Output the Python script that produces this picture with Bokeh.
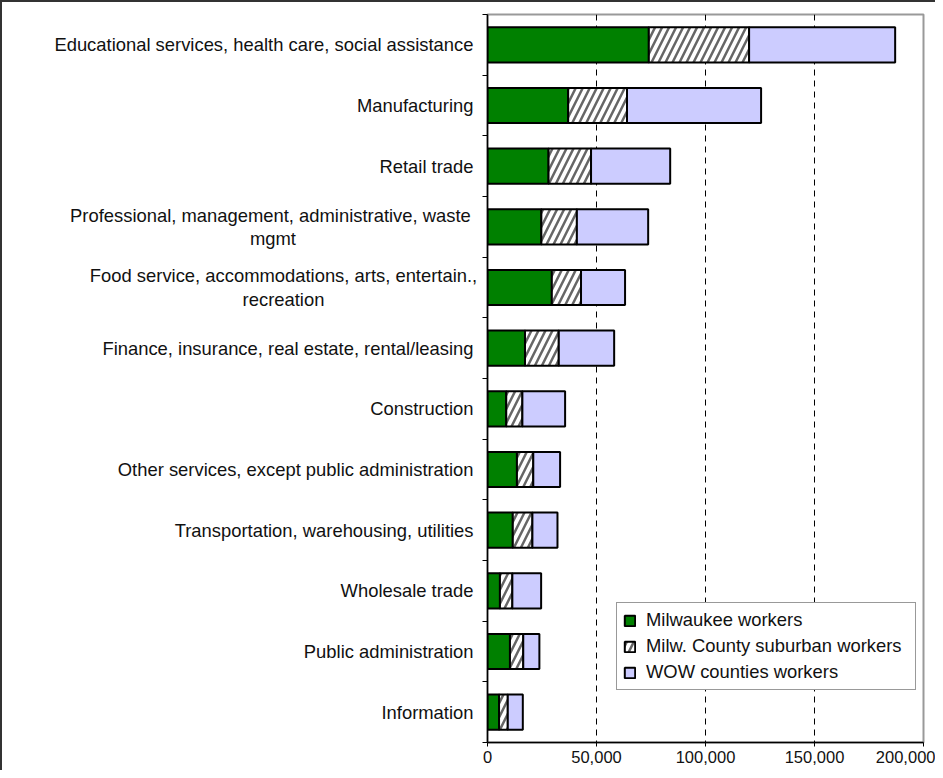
from bokeh.plotting import figure
from bokeh.layouts import row
from bokeh.models import ColumnDataSource, Range1d, FixedTicker, NumeralTickFormatter, Legend, LegendItem
from bokeh.core.properties import value
from bokeh.embed import file_html
from bokeh.resources import INLINE

categories = [
    "Educational services, health care, social assistance",
    "Manufacturing",
    "Retail trade",
    "Professional, management, administrative,  waste\nmgmt",
    "Food service, accommodations, arts, entertain.,\nrecreation",
    "Finance, insurance, real estate, rental/leasing",
    "Construction",
    "Other services, except public administration",
    "Transportation, warehousing, utilities",
    "Wholesale trade",
    "Public administration",
    "Information",
]
milwaukee = [74000, 37000, 28000, 24700, 29500, 17200, 8600, 13500, 11600, 5700, 10300, 5300]
suburban = [46000, 27000, 19500, 16300, 13400, 15500, 7400, 7500, 9000, 5700, 6100, 4000]
wow = [67000, 61500, 36300, 32700, 20200, 25400, 19600, 12300, 11500, 13200, 7400, 6900]
series_names = ["Milwaukee workers", "Milw. County suburban workers", "WOW counties workers"]
x_ticks = [0, 50000, 100000, 150000, 200000]

n = len(categories)
ypos = [i + 0.5 for i in range(n)]
src = ColumnDataSource(dict(y=ypos, mil=milwaukee, sub=suburban, wow=wow))

FONT = "Liberation Sans"
LABEL_SIZE = "18.4px"
TOP, BOTTOM, FRAME_H = 12, 28, 728
LAB_W = 479

y_range = Range1d(n, 0)

# ---- category label panel (left) ----
lab = figure(width=LAB_W, height=TOP + FRAME_H + BOTTOM, title=None, output_backend="svg",
             toolbar_location=None, x_range=Range1d(0, LAB_W), y_range=y_range,
             min_border_left=0, min_border_right=0, min_border_top=TOP, min_border_bottom=BOTTOM)
lab.axis.visible = False
lab.grid.visible = False
lab.outline_line_color = None

single = [i for i, c in enumerate(categories) if "\n" not in c]
multi = [i for i, c in enumerate(categories) if "\n" in c]
RIGHT_EDGE = 471
MULTI_CENTRE = {3: 270.5, 4: 281}
lab.text(x=[RIGHT_EDGE] * len(single), y=[ypos[i] for i in single], text=[categories[i] for i in single],
         text_align="right", text_baseline="middle", text_font=value(FONT),
         text_font_size=value(LABEL_SIZE), text_color="#111111")
lab.text(x=[MULTI_CENTRE[i] for i in multi], y=[ypos[i] for i in multi], text=[categories[i] for i in multi],
         text_align="center", text_baseline="middle", text_font=value(FONT),
         text_font_size=value(LABEL_SIZE), text_color="#111111", text_line_height=1.1)

# ---- bar chart ----
p = figure(frame_width=436, frame_height=FRAME_H, title=None, output_backend="svg", toolbar_location=None,
           x_range=Range1d(0, 200000), y_range=y_range,
           min_border_left=6, min_border_right=12, min_border_top=TOP, min_border_bottom=BOTTOM)

renderers = p.hbar_stack(["mil", "sub", "wow"], y="y", height=0.58, source=src,
                         fill_color=["#008000", "#ffffff", "#ccccff"],
                         line_color="black", line_width=2,
                         hatch_pattern=[" ", "/", " "], hatch_color="#666666",
                         hatch_weight=2.5, hatch_scale=14)

p.grid.visible = False
p.xgrid.visible = True
p.xgrid.ticker = FixedTicker(ticks=[50000, 100000, 150000])
p.xgrid.grid_line_color = "black"
p.xgrid.grid_line_dash = "6 5"
p.xgrid.grid_line_width = 1

p.outline_line_color = "#999999"
p.outline_line_width = 2
p.background_fill_color = "white"

xa = p.xaxis[0]
xa.ticker = FixedTicker(ticks=x_ticks)
xa.formatter = NumeralTickFormatter(format="0,0")
xa.major_label_text_font = FONT
xa.major_label_text_font_size = "16.5px"
xa.major_label_text_color = "#111111"
xa.axis_line_color = "black"
xa.axis_line_width = 1.5
xa.major_tick_out = 4
xa.major_tick_in = 0
xa.minor_tick_line_color = None
xa.major_label_standoff = 4

# y axis: only the boundary tick marks (labels live in the left panel)
ya = p.yaxis[0]
ya.ticker = FixedTicker(ticks=[], minor_ticks=list(range(n + 1)))
ya.major_label_standoff = 0
ya.major_tick_line_color = None
ya.major_tick_out = 0
ya.major_tick_in = 0
ya.minor_tick_out = 5
ya.minor_tick_in = 0
ya.minor_tick_line_color = "black"
ya.axis_line_color = "black"
ya.axis_line_width = 1.5

legend = Legend(items=[LegendItem(label=nm, renderers=[r]) for nm, r in zip(series_names, renderers)],
                location=(129, 52), label_text_font=FONT, label_text_font_size=LABEL_SIZE,
                label_text_color="#111111", glyph_width=13, glyph_height=13, label_standoff=10,
                label_height=22, label_width=263, spacing=4, padding=6, margin=0,
                border_line_color="#333333", border_line_width=1,
                background_fill_color="white", background_fill_alpha=1)
p.add_layout(legend)

layout = row(lab, p)
layout.styles = {"border-left": "2px solid #333333", "border-top": "2px solid #333333"}

open("out.html", "w").write(file_html(layout, INLINE))
